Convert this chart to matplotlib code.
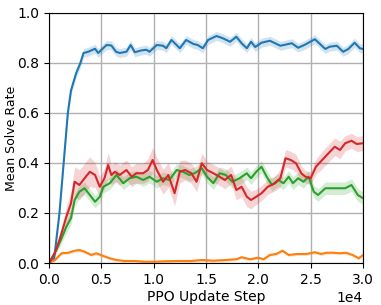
import matplotlib
matplotlib.use("Agg")
import matplotlib.pyplot as plt
import numpy as np

# mean solve rate curves (step, value)
blue_x = [0, 500, 1000, 1500, 1800, 2100, 2600, 3000, 3300, 3750, 4400, 4700, 5500, 5960,
          6400, 6750, 7400, 7800, 8200, 8800, 9300, 9600, 10300, 10900, 11200, 11700, 12500,
          13100, 13800, 14200, 14700, 15200, 16000, 16600, 17300, 17900, 18400, 18900, 19300,
          19700, 20300, 21100, 22100, 23200, 23800, 24400, 25400, 26400, 26800, 27500, 28100,
          28600, 29200, 29700, 30000]
blue_y = [0.0, 0.02, 0.20, 0.45, 0.60, 0.69, 0.76, 0.80, 0.84, 0.845, 0.857, 0.84, 0.872,
          0.87, 0.845, 0.84, 0.845, 0.872, 0.843, 0.85, 0.853, 0.845, 0.872, 0.869, 0.859,
          0.892, 0.859, 0.892, 0.876, 0.872, 0.859, 0.892, 0.908, 0.899, 0.885, 0.905, 0.879,
          0.859, 0.885, 0.864, 0.881, 0.889, 0.869, 0.879, 0.861, 0.872, 0.895, 0.856, 0.865,
          0.869, 0.845, 0.856, 0.881, 0.859, 0.856]
blue_sd = [0.0, 0.005, 0.01] + [0.018] * (len(blue_y) - 3)

red_x = [0, 550, 1000, 1660, 2100, 2450, 2900, 3400, 3900, 4400, 4850, 5300, 5650, 5960,
         6300, 6750, 7400, 7900, 8350, 9000, 9450, 9900, 10300, 10900, 11400, 12000, 12500,
         13000, 13600, 14100, 14600, 15100, 15700, 16300, 16800, 17400, 17900, 18400, 18900,
         19300, 19800, 20300, 20900, 21600, 22100, 22600, 23100, 23600, 24100, 24500, 25000,
         25500, 26100, 26700, 27300, 27800, 28300, 28900, 29400, 30000]
red_y = [0.0, 0.039, 0.092, 0.185, 0.239, 0.325, 0.312, 0.339, 0.365, 0.352, 0.305, 0.339,
         0.392, 0.352, 0.365, 0.352, 0.372, 0.345, 0.359, 0.359, 0.372, 0.412, 0.372, 0.325,
         0.352, 0.279, 0.365, 0.372, 0.359, 0.325, 0.399, 0.372, 0.359, 0.345, 0.332, 0.352,
         0.292, 0.305, 0.265, 0.252, 0.265, 0.279, 0.305, 0.319, 0.339, 0.419, 0.412, 0.399,
         0.359, 0.345, 0.339, 0.385, 0.412, 0.439, 0.465, 0.452, 0.479, 0.489, 0.476, 0.479]
red_sd = [0.0, 0.01, 0.02, 0.04, 0.05, 0.06, 0.06, 0.06, 0.06, 0.05, 0.04, 0.04, 0.05, 0.04,
          0.04, 0.04, 0.04, 0.04, 0.04, 0.04, 0.045, 0.05, 0.05, 0.05, 0.05, 0.05, 0.045, 0.04,
          0.04, 0.04, 0.04, 0.035, 0.035, 0.035, 0.035, 0.035, 0.04, 0.04, 0.04, 0.035, 0.03,
          0.03, 0.03, 0.03, 0.035, 0.035, 0.035, 0.035, 0.03, 0.025, 0.025, 0.03, 0.035, 0.035,
          0.035, 0.035, 0.03, 0.03, 0.03, 0.03]

green_x = [0, 700, 1200, 1660, 2100, 2450, 2900, 3400, 3900, 4400, 4850, 5200, 5800, 6450,
           7100, 7700, 8350, 9000, 9600, 10300, 10900, 11500, 12200, 12800, 13400, 13900,
           14600, 15100, 15700, 16300, 16900, 17500, 18200, 18900, 19300, 19800, 20300, 20800,
           21300, 21900, 22400, 22900, 23300, 23800, 24300, 24800, 25300, 25700, 26400, 27000,
           27600, 28300, 28900, 29500, 30000]
green_y = [0.0, 0.052, 0.099, 0.145, 0.179, 0.252, 0.285, 0.299, 0.272, 0.245, 0.265, 0.305,
           0.319, 0.352, 0.319, 0.339, 0.345, 0.332, 0.345, 0.325, 0.339, 0.332, 0.372, 0.365,
           0.352, 0.359, 0.379, 0.345, 0.319, 0.359, 0.352, 0.325, 0.339, 0.359, 0.339, 0.365,
           0.385, 0.345, 0.312, 0.332, 0.319, 0.345, 0.319, 0.339, 0.325, 0.345, 0.285, 0.272,
           0.299, 0.299, 0.299, 0.299, 0.312, 0.272, 0.259]
green_sd = [0.0, 0.01, 0.02] + [0.025] * (len(green_y) - 3)

orange_x = [0, 570, 1200, 1850, 2450, 2900, 3400, 4050, 4500, 5200, 5800, 6450, 7200, 8200,
            9100, 10100, 11100, 12300, 13600, 14600, 15700, 16900, 17900, 18400, 19200, 20000,
            20500, 21100, 21700, 22300, 22900, 23700, 24600, 25400, 26000, 26500, 27100, 27800,
            28400, 29000, 29600, 30000]
orange_y = [0.0, 0.012, 0.039, 0.041, 0.049, 0.052, 0.045, 0.032, 0.039, 0.028, 0.019, 0.012,
            0.008, 0.008, 0.005, 0.005, 0.007, 0.008, 0.008, 0.012, 0.009, 0.012, 0.015, 0.023,
            0.015, 0.021, 0.015, 0.032, 0.036, 0.049, 0.032, 0.036, 0.036, 0.043, 0.036, 0.041,
            0.041, 0.039, 0.041, 0.032, 0.019, 0.032]
orange_sd = [0.0] + [0.006] * (len(orange_y) - 1)

series = [
    (blue_x, blue_y, blue_sd, "tab:blue"),
    (orange_x, orange_y, orange_sd, "tab:orange"),
    (green_x, green_y, green_sd, "tab:green"),
    (red_x, red_y, red_sd, "tab:red"),
]

fig = plt.figure(figsize=(3.81, 3.05), dpi=100)
ax = fig.add_axes([0.1286, 0.1377, 0.8242, 0.8197])

for xs, ys, sd, col in series:
    xs = np.array(xs)
    ys = np.array(ys)
    sd = np.array(sd)
    ax.fill_between(xs, ys - sd, ys + sd, color=col, alpha=0.2, linewidth=0)
    ax.plot(xs, ys, color=col, linewidth=1.5)

ax.set_xlim(0, 30000)
ax.set_ylim(0, 1.0)
ax.set_xticks([0, 5000, 10000, 15000, 20000, 25000, 30000])
ax.ticklabel_format(axis="x", style="sci", scilimits=(0, 0))
ax.grid(True, color="#b0b0b0", linewidth=1.0)
ax.set_axisbelow(True)
ax.set_xlabel("PPO Update Step", labelpad=2)
ax.set_ylabel("Mean Solve Rate", fontsize=9)
ax.yaxis.set_label_coords(-0.1, 0.5)

fig.savefig("out.png", dpi=100)
